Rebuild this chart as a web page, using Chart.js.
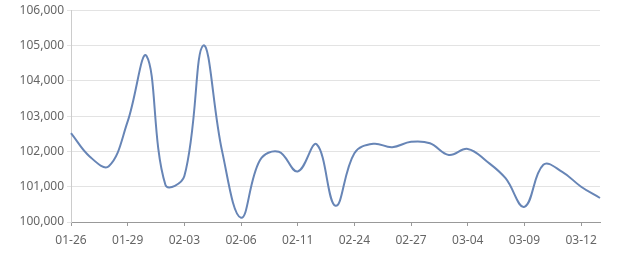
<!DOCTYPE html>
<html>
<head>
<meta charset="utf-8">
<script src="https://cdn.jsdelivr.net/npm/chart.js@4/dist/chart.umd.min.js"></script>
<style>
  html, body { margin: 0; padding: 0; background: #fff; }
  #wrap { width: 640px; height: 270px; }
</style>
</head>
<body>
<div id="wrap"><canvas id="price-chart" width="640" height="270"></canvas></div>
<script>
var dates = [
  '01-26', '01-27', '01-28', '01-29', '01-30', '01-31', '02-03', '02-04', '02-05', '02-06',
  '02-07', '02-10', '02-11', '02-12', '02-21', '02-24', '02-25', '02-26', '02-27', '02-28',
  '03-03', '03-04', '03-05', '03-06', '03-09', '03-10', '03-11', '03-12', '03-13'
];
var prices = [
  102520, 101850, 101580, 102850, 104700, 101050, 101300, 105000, 102000, 100120,
  101750, 101990, 101430, 102200, 100460, 101950, 102215, 102120, 102270, 102230,
  101900, 102070, 101720, 101240, 100430, 101620, 101420, 101000, 100680
];
var yTicks = [100000, 101000, 102000, 103000, 104000, 105000, 106000];
var labelEvery = 3;

(function () {
  'use strict';

  Chart.defaults.font.family = '"Noto Sans", "DejaVu Sans", sans-serif';
  Chart.defaults.font.size = 12;
  Chart.defaults.color = '#666';

  var ctx = document.getElementById('price-chart').getContext('2d');
  var chart = new Chart(ctx, {
    type: 'line',
    data: {
      labels: dates,
      datasets: [{
        data: prices,
        borderColor: '#6785b6',
        borderWidth: 2,
        pointRadius: 0,
        tension: 0.4,
        fill: false
      }]
    },
    options: {
      responsive: false,
      animation: false,
      layout: { padding: { top: 3, right: 40, left: 0, bottom: 0 } },
      plugins: { legend: { display: false }, tooltip: { enabled: false } },
      scales: {
        x: {
          offset: false,
          border: { color: '#999', width: 1 },
          grid: {
            drawOnChartArea: false,
            tickLength: 4,
            color: function (c) {
              return c.index % labelEvery === 0 ? '#999' : 'rgba(0,0,0,0)';
            }
          },
          ticks: {
            autoSkip: false,
            maxRotation: 0,
            padding: 7,
            callback: function (v, i) {
              return i % labelEvery === 0 ? dates[i] : '';
            }
          },
          afterFit: function (s) { s.height = 48; }
        },
        y: {
          min: yTicks[0],
          max: yTicks[yTicks.length - 1],
          border: { color: '#ccc', width: 1 },
          grid: { color: '#e3e3e3', tickLength: 4 },
          afterBuildTicks: function (s) {
            s.ticks = yTicks.map(function (v) { return { value: v }; });
          },
          ticks: {
            padding: 3,
            callback: function (v) { return v.toLocaleString('en-US'); }
          },
          afterFit: function (s) { s.width = 71; }
        }
      }
    }
  });
})();
</script>
</body>
</html>
